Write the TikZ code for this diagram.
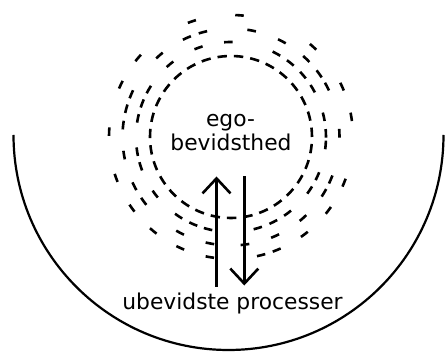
\documentclass[tikz,border=0pt]{standalone}
\usepackage{fontspec}
\setmainfont{DejaVu Sans}
\usetikzlibrary{arrows.meta}
\begin{document}
\begin{tikzpicture}[x=1pt,y=1pt,
  dashring/.style={line width=2.6pt},
  updown/.style={line width=2.6pt,-{Straight Barb[length=15pt,width=28pt]}},
  bowl/.style={line width=2.2pt},
  lbl/.style={font=\fontsize{21.8}{24}\selectfont, text=black, inner sep=0pt}]
\useasboundingbox (0,0) rectangle (445,352);
\coordinate (c) at (231,215);
% outer bowl
\coordinate (bowlstart) at (13.5,217);
\draw[bowl] (bowlstart) arc[start angle=180, end angle=360, radius=215];
% inner dashed circle
\draw[dashring, dash pattern=on 9.4pt off 7.02pt] (c) circle (81);
% ring 2
\foreach \a in {91.6,110,130,150,159.3,168.7,188.9,198,217,236.5,246.6,256,
                286.4,296.5,306.6,326,335.6,355.2,2.2,12.3,30.6,40.7,51.3,61.4}
  {\pgfmathsetmacro{\s}{\a-2.6}\pgfmathsetmacro{\e}{\a+2.6}
   \draw[dashring] ([shift={(c)}]\s:95) arc[start angle=\s, end angle=\e, radius=95];}
% ring 3
\foreach \a in {79,105,114,131.3,156.8,164.9,173.7,189.6,207,216.4,242,258.8,
                277.4,294,311.6,329,336.9,2,27.7,35.6,46,62}
  {\pgfmathsetmacro{\s}{\a-2.3}\pgfmathsetmacro{\e}{\a+2.3}
   \draw[dashring] ([shift={(c)}]\s:108.5) arc[start angle=\s, end angle=\e, radius=108.5];}
% ring 4
\foreach \a in {86,108.7,139.6,154.6,177.5,199.6,215.7,230.4,245.4,260,
                284.3,292,307,323,338,9.5,24.4,47.7}
  {\pgfmathsetmacro{\s}{\a-2}\pgfmathsetmacro{\e}{\a+2}
   \draw[dashring] ([shift={(c)}]\s:122) arc[start angle=\s, end angle=\e, radius=122];}
% arrows
\coordinate (upfrom) at (216.5,65);
\coordinate (upto) at (216.5,175.5);
\coordinate (downfrom) at (244.3,175.5);
\coordinate (downto) at (244.3,66.5);
\draw[updown] (upfrom) -- (upto);
\draw[updown] (downfrom) -- (downto);
% labels
\node[lbl, anchor=base] (ego) at (230.5,225.3) {ego-};
\node[lbl, anchor=base] (bev) at (231,201.3) {bevidsthed};
\node[lbl, anchor=base] (ubev) at (232.5,42) {ubevidste processer};
\end{tikzpicture}
\end{document}
